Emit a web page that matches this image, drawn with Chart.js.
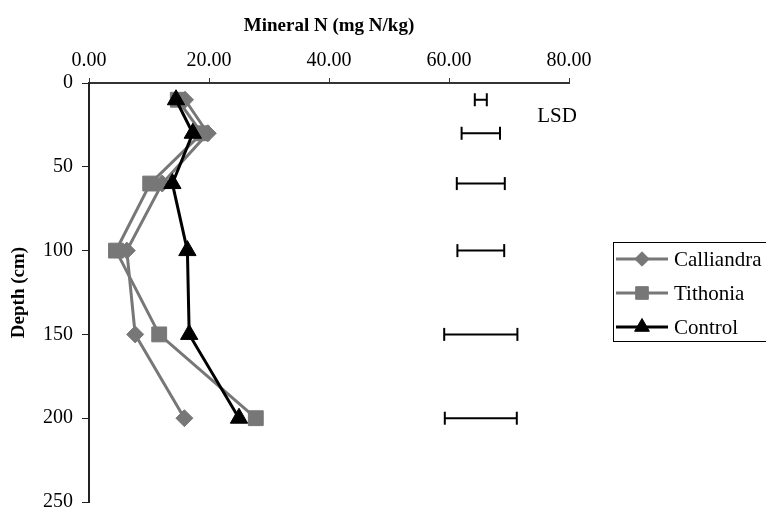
<!DOCTYPE html>
<html>
<head>
<meta charset="utf-8">
<script src="https://cdn.jsdelivr.net/npm/chart.js@4/dist/chart.umd.min.js"></script>
<style>
  html, body { margin: 0; padding: 0; background: #fff; }
  #wrap { width: 766px; height: 508px; }
</style>
</head>
<body>
<div id="wrap"><canvas id="c" width="766" height="508"></canvas></div>
<script>
// depth of each sample (cm)
var depths = [10, 30, 60, 100, 150, 200];
// mineral N (mg N/kg)
var calliandra = [16.0, 19.8, 12.2, 6.3, 7.7, 15.9];
var tithonia = [14.8, 18.8, 10.2, 4.5, 11.7, 27.8];
var control = [14.5, 17.3, 13.9, 16.4, 16.7, 25.0];
// LSD bars
var lsdCentre = 65.3;
var lsdHalf = [1.0, 3.2, 4.0, 3.9, 6.1, 6.0];
var xTicks = [0, 20, 40, 60, 80];
var yTicks = [0, 50, 100, 150, 200, 250];

var FONT = "'Liberation Serif', 'Times New Roman', serif";
var GREY = "#777777";

function profile(values) {
  return values.map(function (v, i) { return { x: v, y: depths[i] }; });
}

var datasets = [
  {
    label: "Calliandra", data: profile(calliandra), order: 2,
    borderColor: GREY, backgroundColor: GREY, borderWidth: 3,
    pointStyle: "rectRot", pointRadius: 8.5, pointBorderWidth: 1,
    pointBackgroundColor: GREY, pointBorderColor: GREY
  },
  {
    label: "Tithonia", data: profile(tithonia), order: 1,
    borderColor: GREY, backgroundColor: GREY, borderWidth: 3,
    pointStyle: "rect", pointRadius: 10.5, pointBorderWidth: 1,
    pointBackgroundColor: GREY, pointBorderColor: GREY
  },
  {
    label: "Control", data: profile(control), order: 0,
    borderColor: "#000", backgroundColor: "#000", borderWidth: 3,
    pointStyle: "triangle", pointRadius: 10, pointBorderWidth: 1,
    pointBackgroundColor: "#000", pointBorderColor: "#000"
  }
];

// one small dataset for each LSD bar, capped with vertical line points
depths.forEach(function (d, i) {
  datasets.push({
    label: "LSD" + i, lsd: true, order: 3,
    data: [{ x: lsdCentre - lsdHalf[i], y: d }, { x: lsdCentre + lsdHalf[i], y: d }],
    borderColor: "#000", borderWidth: 2,
    pointStyle: "line", rotation: 90, pointRadius: 6.5,
    pointBorderColor: "#000", pointBorderWidth: 2
  });
});

var extras = {
  id: "extras",
  afterDraw: function (chart) {
    var ctx = chart.ctx;
    var xs = chart.scales.x, ys = chart.scales.y;
    ctx.save();
    // LSD label
    ctx.fillStyle = "#000";
    ctx.font = "21px " + FONT;
    ctx.textAlign = "center";
    ctx.textBaseline = "middle";
    ctx.fillText("LSD", xs.getPixelForValue(78), ys.getPixelForValue(20));

    // legend
    var bx = 613, by = 242, bw = 160, bh = 99;
    ctx.strokeStyle = "#000";
    ctx.lineWidth = 1;
    ctx.strokeRect(bx + 0.5, by + 0.5, bw, bh);
    var rows = [259, 293, 327];
    ctx.textAlign = "left";
    for (var i = 0; i < 3; i++) {
      var ds = chart.data.datasets[i];
      var y = rows[i];
      ctx.strokeStyle = ds.borderColor;
      ctx.lineWidth = ds.borderWidth;
      ctx.beginPath();
      ctx.moveTo(616, y);
      ctx.lineTo(668, y);
      ctx.stroke();
      ctx.fillStyle = ds.pointBackgroundColor;
      ctx.strokeStyle = ds.pointBorderColor;
      ctx.lineWidth = 1;
      Chart.helpers.drawPoint(ctx, { pointStyle: ds.pointStyle, radius: ds.pointRadius * 0.85, rotation: 0, borderWidth: 1 }, 642, y);
      ctx.fillStyle = "#000";
      ctx.fillText(ds.label, 674, y + 1);
    }
    ctx.restore();
  }
};

new Chart(document.getElementById("c"), {
  type: "line",
  data: { datasets: datasets },
  options: {
    responsive: false,
    animation: false,
    layout: { autoPadding: false, padding: { left: 0, top: 0, right: 197, bottom: 6 } },
    elements: { line: { tension: 0 } },
    plugins: {
      legend: { display: false },
      tooltip: { enabled: false }
    },
    scales: {
      x: {
        type: "linear", position: "top", min: 0, max: 80,
        afterFit: function (s) { s.height = 83; s.paddingLeft = 0; s.paddingRight = 0; },
        afterBuildTicks: function (s) { s.ticks = xTicks.map(function (v) { return { value: v }; }); },
        ticks: {
          color: "#000", font: { family: FONT, size: 20 }, padding: 5,
          callback: function (v) { return Number(v).toFixed(2); }
        },
        grid: { drawOnChartArea: false, drawTicks: true, tickLength: 5, tickColor: "#333" },
        border: { display: true, color: "#333", width: 2 },
        title: {
          display: true, text: "Mineral N (mg N/kg)", color: "#000",
          font: { family: FONT, size: 19, weight: "bold" }, padding: { top: 15, bottom: 0 }
        }
      },
      y: {
        type: "linear", position: "left", reverse: true, min: 0, max: 250,
        afterFit: function (s) { s.width = 89; s.paddingTop = 0; s.paddingBottom = 0; },
        afterBuildTicks: function (s) { s.ticks = yTicks.map(function (v) { return { value: v }; }); },
        ticks: { color: "#000", font: { family: FONT, size: 20 }, padding: 9 },
        grid: { drawOnChartArea: false, drawTicks: true, tickLength: 7, tickColor: "#222" },
        border: { display: true, color: "#222", width: 2 },
        title: {
          display: true, text: "Depth (cm)", color: "#000",
          font: { family: FONT, size: 19, weight: "bold" }, padding: { top: 8, bottom: 0 }
        }
      }
    }
  },
  plugins: [extras]
});
</script>
</body>
</html>
